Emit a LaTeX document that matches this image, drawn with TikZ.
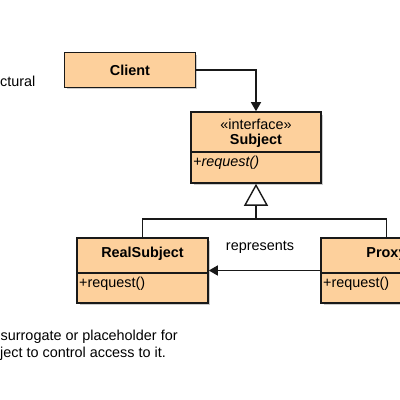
\documentclass[tikz,border=0pt]{standalone}
\usepackage{fontspec}
\setmainfont{Liberation Sans}
\usetikzlibrary{arrows.meta}
\definecolor{boxfill}{RGB}{253,208,156}
\definecolor{boxline}{RGB}{25,25,25}
\begin{document}
\begin{tikzpicture}[x=1pt,y=-1pt,
  every node/.style={font=\fontsize{14.4}{17}\selectfont, inner sep=0pt},
  umlbox/.style={draw=boxline, line width=1.6pt, fill=boxfill, rectangle, minimum width=131pt},
  conn/.style={line width=1.4pt, draw=boxline},
  solidtip/.style={-{Triangle[length=9pt,width=10pt]}},
  gentip/.style={-{Triangle[open,length=22pt,width=24pt,fill=white]}}
]
\useasboundingbox (0,0) rectangle (400,400);
\fill[white] (0,0) rectangle (400,400);

% shadows
\fill[black!20] (66.5,54.5) rectangle (197,89);
\fill[black!20] (193.5,114.5) rectangle (323,185);
\fill[black!20] (79.5,240.5) rectangle (210,305);
\fill[black!20] (323.5,240.5) rectangle (454,305);

% boxes
\node[umlbox, minimum height=35pt] (client) at (130,70) {};
\node[umlbox, minimum width=130pt, minimum height=71pt] (subject) at (256,147.5) {};
\node[umlbox, minimum height=65pt] (realsubject) at (142.5,270.5) {};
\node[umlbox, minimum height=65pt] (proxy) at (386.5,270.5) {};

% compartments
\coordinate (sdivL) at (191,152);
\coordinate (sdivR) at (321,152);
\draw[conn] (sdivL) -- (sdivR);
\coordinate (rdivL) at (77,273);
\coordinate (rdivR) at (208,273);
\draw[conn] (rdivL) -- (rdivR);
\coordinate (pdivL) at (321,273);
\coordinate (pdivR) at (452,273);
\draw[conn] (pdivL) -- (pdivR);

% texts in boxes
\node[font=\fontsize{14.4}{17}\selectfont\bfseries] (clientlbl) at (130,70) {Client};
\node (stereo) at (256,124) {«interface»};
\node[font=\fontsize{14.4}{17}\selectfont\bfseries] (subjlbl) at (256,141) {Subject};
\node[anchor=west, font=\fontsize{14.4}{17}\selectfont\itshape] (subjop) at (193,163) {+request()};
\node[font=\fontsize{14.4}{17}\selectfont\bfseries] (reallbl) at (142.5,254) {RealSubject};
\node[anchor=west] (realop) at (79,284) {+request()};
\node[font=\fontsize{14.4}{17}\selectfont\bfseries] (proxylbl) at (386.5,254) {Proxy};
\node[anchor=west] (proxyop) at (323,284) {+request()};

% connectors
\draw[conn, solidtip] (client.east) -| (subject.north);
\coordinate (join) at (256,219);
\draw[conn] (realsubject.north) |- (join) -| (proxy.north);
\draw[conn, gentip] (join) -- (subject.south);
\draw[conn, solidtip] (proxy.west) -- (realsubject.east);
\node (rep) at (260,247) {represents};

% side texts
\node[anchor=base west] (side) at (0,86) {ctural};
\node[anchor=base west] (intent1) at (0.5,340) {surrogate or placeholder for};
\node[anchor=base west] (intent2) at (0,357) {ject to control access to it.};
\end{tikzpicture}
\end{document}
